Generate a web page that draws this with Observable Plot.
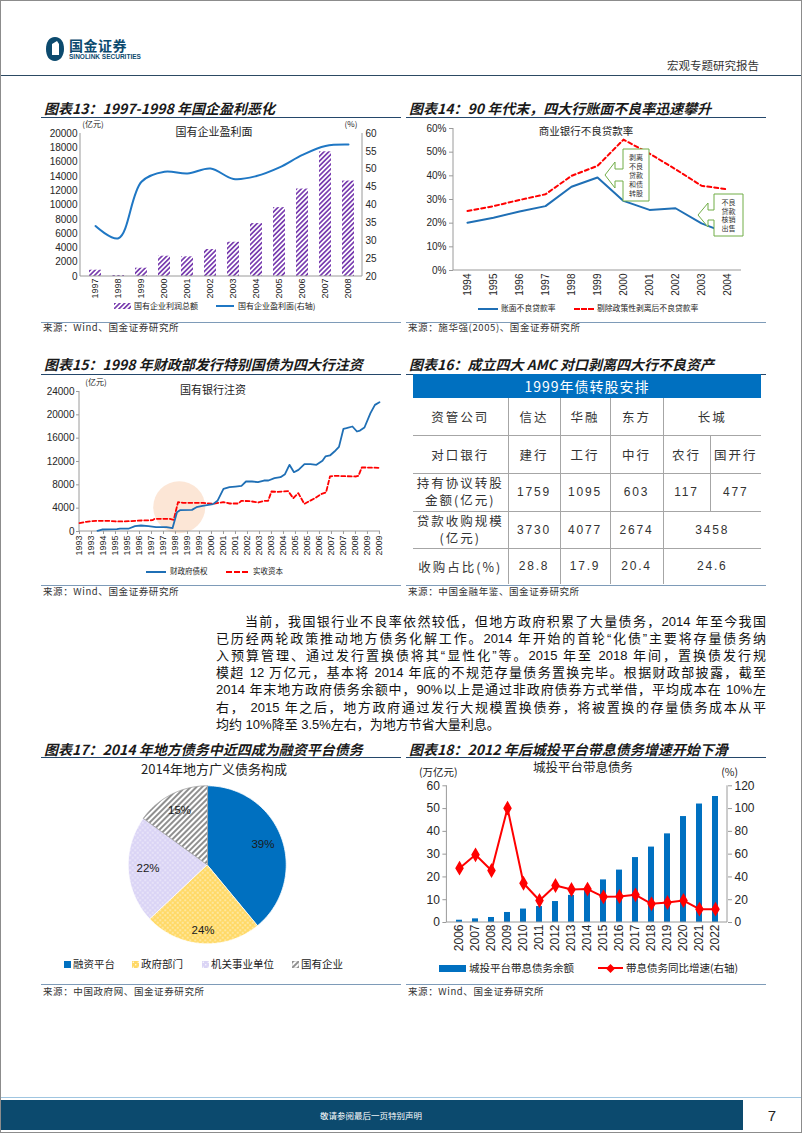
<!DOCTYPE html>
<html><head><meta charset="utf-8">
<script src="https://cdn.jsdelivr.net/npm/d3@7"></script>
<script src="https://cdn.jsdelivr.net/npm/@observablehq/plot@0.6"></script>
<style>
html,body{margin:0;padding:0;background:#fff;}
#page{position:relative;width:802px;height:1133px;overflow:hidden;font-family:"Noto Sans CJK SC","Noto Sans",sans-serif;color:#222;box-sizing:border-box;border:1px solid #8c8c8c;}
.abs{position:absolute;white-space:nowrap;line-height:1;}
.para{position:absolute;font-size:13px;line-height:1;color:#111;font-family:"Liberation Sans","Noto Sans CJK SC",sans-serif;text-align:justify;text-align-last:justify;white-space:nowrap;}
table.t16{position:absolute;left:412px;top:373px;border-collapse:collapse;table-layout:fixed;width:348px;font-family:"Noto Sans CJK SC",sans-serif;color:#333;}
table.t16 td{border-bottom:1px solid #a6a6a6;border-left:1px solid #a6a6a6;text-align:center;vertical-align:middle;padding:0;font-size:12.5px;letter-spacing:2px;}
table.t16 td.first{border-left:none;}
table.t16 td.num{font-family:"Liberation Sans",sans-serif;font-size:12px;letter-spacing:1.8px;}
table.t16 tr.head td{background:#0070C0;color:#fff;font-size:14px;letter-spacing:1px;border:none;}
</style>
</head><body>
<div id="page"></div>
<script>
// ---------------- DATA ----------------
// Chart 13
const c13Years = ["1997","1998","1999","2000","2001","2002","2003","2004","2005","2006","2007","2008"];
const c13Profit = [880,140,1160,2840,2750,3770,4790,7400,9630,12230,17440,13350];
const c13Ratio = [34.1,30.7,46.5,49.3,48.8,50.2,47.3,48.1,50.5,54.0,56.5,56.9];
const c13LeftTicks = [0,2000,4000,6000,8000,10000,12000,14000,16000,18000,20000];
const c13RightTicks = [20,25,30,35,40,45,50,55,60];
// Chart 14
const c14Years = ["1994","1995","1996","1997","1998","1999","2000","2001","2002","2003","2004"];
const c14Book = [20.2,22.3,24.9,27.2,35.4,39.3,29.4,25.6,26.3,19.9,15.7];
const c14Adj = [25.1,27.2,29.8,32.2,40.0,44.2,55.3,49.4,42.8,35.8,34.3];
const c14Ticks = [0,10,20,30,40,50,60];
// Chart 15 (x = months since Jan 1993)
const c15TickLabels = ["1993","1993","1994","1995","1995","1996","1997","1997","1998","1999","1999","2000","2001","2001","2002","2003","2003","2004","2005","2005","2006","2007","2007","2008","2009","2009"];
const c15BondM = [12,15,25,27,33,37,41,46,51,58,62,65,67,75,78,82,86,89,92,96,100,104,108,111,115,119,123,126,130,134,137,140,143,146,150,154,158,162,164,167,170,173,176,178,182,185,187,190,194,197,200];
const c15BondV = [110,340,400,510,510,910,1030,910,740,740,570,3310,3660,3710,4170,4400,4570,4690,5260,7310,7600,7710,7830,8570,8570,8460,8740,8740,9140,9310,9830,11430,10170,10570,11540,11540,11430,12110,12860,13030,13710,14510,17600,17710,18000,17140,17310,17830,20290,21710,22170];
const c15CapM = [0,4.5,11,20,24.5,33,42,48.6,50,60,62.8,65.7,69,82.4,89,95.8,100.2,105.8,108,113.6,119.2,123.6,125.8,128,131.4,139.2,142.5,145.9,149.9,153.7,157.7,161.5,164.4,167,170.4,184.4,186,188.2,191.5,200.4];
const c15CapV = [1430,1660,1830,1830,1710,1770,1890,1940,2170,2170,2000,5030,4910,4910,4740,5030,4800,4800,5260,5200,4970,5260,5260,6860,6800,6910,5710,6570,4740,5260,5830,6460,6690,9430,9540,9430,9540,10970,10970,10910];
const c15YTicks = [0,4000,8000,12000,16000,20000,24000];
// Table 16
const t16Amc = ["信达","华融","东方","长城"];
const t16Banks = ["建行","工行","中行","农行","国开行"];
const t16Swap = ["1759","1095","603","117","477"];
const t16Loan = ["3730","4077","2674","3458"];
const t16Share = ["28.8","17.9","20.4","24.6"];
// Chart 17
const c17Names = ["融资平台","政府部门","机关事业单位","国有企业"];
const c17Values = [39,24,22,15];
// Chart 18
const c18Years = ["2006","2007","2008","2009","2010","2011","2012","2013","2014","2015","2016","2017","2018","2019","2020","2021","2022"];
const c18Debt = [1.0,1.6,2.2,4.4,5.9,7.0,9.2,11.9,14.8,18.7,23.0,28.5,33.1,38.9,46.5,52.0,55.3];
const c18Growth = [47.7,59.4,45.7,100.4,34.5,19.3,32.5,29.0,29.3,22.5,22.8,24.3,16.4,17.6,19.3,11.7,11.7];
const c18LeftTicks = [0,10,20,30,40,50,60];
const c18RightTicks = [0,20,40,60,80,100,120];

// ---------------- HELPERS ----------------
const page = document.getElementById("page");
function txt(s, x, y, css = {}, anchor = "start") {
  const d = document.createElement("div");
  d.className = "abs";
  d.textContent = s;
  d.style.left = x + "px"; d.style.top = y + "px";
  const tx = anchor === "middle" ? "-50%" : anchor === "end" ? "-100%" : "0";
  d.style.transform = `translate(${tx},-50%)`;
  Object.assign(d.style, css);
  page.appendChild(d);
  return d;
}
function box(x, y, w, h, css) {
  const d = document.createElement("div");
  d.style.position = "absolute";
  d.style.left = x + "px"; d.style.top = y + "px";
  d.style.width = w + "px"; d.style.height = h + "px";
  Object.assign(d.style, css);
  page.appendChild(d);
  return d;
}
function mount(svg, x, y) {
  svg.style.position = "absolute";
  svg.style.left = x + "px"; svg.style.top = y + "px";
  page.appendChild(svg);
}
function swatch(inner, w, h, x, y) {
  const s = document.createElementNS("http://www.w3.org/2000/svg", "svg");
  s.setAttribute("width", w); s.setAttribute("height", h);
  s.innerHTML = inner;
  mount(s, x, y);
}
const baseStyle = fs => ({fontFamily: "'Liberation Sans', Arial, sans-serif", fontSize: fs + "px", color: "#262626", background: "transparent", overflow: "visible"});
function frameLines(sides, color = "#9a9a9a") {
  return (index, scales, values, dim) => {
    const {width, height, marginLeft: l, marginRight: r, marginTop: t, marginBottom: b} = dim;
    const g = d3.create("svg:g");
    const L = {left: [l, t, l, height - b], right: [width - r, t, width - r, height - b], bottom: [l, height - b, width - r, height - b]};
    for (const s of sides) {
      const [x1, y1, x2, y2] = L[s];
      g.append("line").attr("x1", x1).attr("y1", y1).attr("x2", x2).attr("y2", y2).attr("stroke", color).attr("stroke-width", 1);
    }
    return g.node();
  };
}
const songCss = {fontFamily: "'Noto Sans CJK SC', sans-serif", color: "#222"};

// global pattern defs
const defsHost = document.createElementNS("http://www.w3.org/2000/svg", "svg");
defsHost.setAttribute("width", "0"); defsHost.setAttribute("height", "0");
defsHost.style.position = "absolute";
defsHost.innerHTML = `<defs>
<pattern id="hatch13" patternUnits="userSpaceOnUse" width="3.4" height="3.4" patternTransform="rotate(45)"><rect width="3.4" height="3.4" fill="#fff"/><rect width="1.7" height="3.4" fill="#7a3fb0"/></pattern>
<pattern id="dotsY" patternUnits="userSpaceOnUse" width="5" height="5"><rect width="5" height="5" fill="#FFD966"/><circle cx="1.25" cy="1.25" r="0.7" fill="#fff"/><circle cx="3.75" cy="3.75" r="0.7" fill="#fff"/></pattern>
<pattern id="dotsL" patternUnits="userSpaceOnUse" width="5" height="5"><rect width="5" height="5" fill="#DAD4F5"/><circle cx="1.25" cy="1.25" r="0.7" fill="#fff"/><circle cx="3.75" cy="3.75" r="0.7" fill="#fff"/></pattern>
<pattern id="stripeG" patternUnits="userSpaceOnUse" width="4" height="4" patternTransform="rotate(45)"><rect width="4" height="4" fill="#fff"/><rect width="2" height="4" fill="#8f8f8f"/></pattern>
</defs>`;
page.appendChild(defsHost);

// ---------------- HEADER / FOOTER ----------------
swatch(`<path d="M10,1 C16,1 19,6 19,13 C19,20 15,25 10,25 C4,25 1,20 1,13 C1,6 4,1 10,1 Z" fill="#0c4a6e"/><path d="M7,8 L12,5 L14,8 L14,19 L7,19 Z" fill="#fff"/>`, 20, 26, 44, 35);
txt("国金证券", 68, 44, {fontSize: "14px", fontWeight: "bold", color: "#0c4a6e", letterSpacing: "0.5px"});
txt("SINOLINK SECURITIES", 68, 56, {fontSize: "6.5px", fontWeight: "bold", color: "#0c4a6e", fontFamily: "'Liberation Sans Narrow','Liberation Sans',sans-serif"});
txt("宏观专题研究报告", 758, 65, {fontSize: "11.5px", color: "#333"}, "end");
box(0, 74, 802, 0, {borderTop: "1.5px solid #2c4a63"});

box(0, 1096, 802, 0, {borderTop: "1.5px solid #9fc5e0"});
box(0, 1099, 742, 30, {background: "#0c4a6e"});
txt("敬请参阅最后一页特别声明", 370, 1114, {fontSize: "8.5px", color: "#fff"}, "middle");
txt("7", 771, 1114, {fontSize: "15px", color: "#222", fontFamily: "'Liberation Sans',sans-serif"}, "middle");

// section titles / lines
function section(title, x1, x2, ty, ly) {
  txt(title, x1 + 3, ty, {fontSize: "14px", fontWeight: "bold", fontStyle: "italic", color: "#1a1a1a"});
  box(x1, ly, x2 - x1, 0, {borderTop: "1px solid #24476b"});
}
function source(s, x1, x2, ly, ty) {
  box(x1, ly, x2 - x1, 0, {borderTop: "1.5px solid #7e9bb8"});
  txt(s, x1 + 2, ty, {fontSize: "9.5px", color: "#333", letterSpacing: "0.6px"});
}
section("图表13：1997-1998 年国企盈利恶化", 40, 400, 107, 116);
section("图表14：90 年代末，四大行账面不良率迅速攀升", 405, 765, 107, 116);
section("图表15：1998 年财政部发行特别国债为四大行注资", 40, 400, 363, 373);
section("图表16：成立四大 AMC 对口剥离四大行不良资产", 405, 765, 363, 373);
section("图表17：2014 年地方债务中近四成为融资平台债务", 40, 400, 748, 756);
section("图表18：2012 年后城投平台带息债务增速开始下滑", 405, 765, 748, 756);
source("来源：Wind、国金证券研究所", 40, 400, 321, 327);
source("来源：施华强(2005)、国金证券研究所", 405, 765, 321, 327);
source("来源：Wind、国金证券研究所", 40, 400, 584, 591);
source("来源：中国金融年鉴、国金证券研究所", 405, 765, 584, 591);
source("来源：中国政府网、国金证券研究所", 40, 400, 983, 991);
source("来源：Wind、国金证券研究所", 405, 765, 983, 991);

// ---------------- CHART 13 ----------------
const c13Rows = c13Years.map((y, i) => ({year: y, profit: c13Profit[i], ratio: c13Ratio[i]}));
const r13 = r => (r - 20) * 500;
const c13 = Plot.plot({
  width: 360, height: 180, marginLeft: 39, marginRight: 39, marginTop: 12, marginBottom: 25,
  style: baseStyle(9),
  x: {type: "band", domain: c13Years, paddingInner: 0.5, paddingOuter: 0.25},
  y: {domain: [0, 20000]},
  marks: [
    Plot.barY(c13Rows, {x: "year", y: "profit", fill: "url(#hatch13)"}),
    Plot.line(c13Rows, {x: "year", y: d => r13(d.ratio), stroke: "#1f77c4", strokeWidth: 2, curve: "catmull-rom"}),
    frameLines(["left", "right", "bottom"]),
    Plot.axisY(c13LeftTicks, {anchor: "left", label: null, tickSize: 0, tickPadding: 3, fontSize: 10, tickFormat: d => String(d)}),
    Plot.axisY(c13RightTicks.map(r13), {anchor: "right", label: null, tickSize: 0, tickPadding: 3, fontSize: 10, tickFormat: d => String(d / 500 + 20)}),
    Plot.axisX({label: null, tickRotate: -90, tickSize: 0, tickPadding: 2, fontSize: 9})
  ]
});
mount(c13, 40, 120);
txt("国有企业盈利面", 213, 130, {...songCss, fontSize: "11px"}, "middle");
txt("(亿元)", 92, 123, {...songCss, fontSize: "8px"}, "middle");
txt("(%)", 350, 123, {...songCss, fontSize: "8px"}, "middle");
swatch(`<rect width="17" height="6" fill="url(#hatch13)"/>`, 17, 6, 113, 302);
txt("国有企业利润总额", 133, 305, {...songCss, fontSize: "8px"});
box(215, 304, 18, 0, {borderTop: "2px solid #1f77c4"});
txt("国有企业盈利面(右轴)", 237, 305, {...songCss, fontSize: "8px"});

// ---------------- CHART 14 ----------------
const c14Rows = c14Years.map((y, i) => ({year: y, book: c14Book[i], adj: c14Adj[i]}));
const c14 = Plot.plot({
  width: 360, height: 180, marginLeft: 47, marginRight: 25, marginTop: 9, marginBottom: 29,
  style: baseStyle(10),
  x: {type: "point", domain: c14Years, padding: 0.5},
  y: {domain: [0, 60]},
  marks: [
    frameLines(["left", "bottom"]),
    Plot.line(c14Rows, {x: "year", y: "adj", stroke: "#ff0000", strokeWidth: 2, strokeDasharray: "4,3"}),
    Plot.line(c14Rows, {x: "year", y: "book", stroke: "#1f6fb5", strokeWidth: 2}),
    Plot.axisY(c14Ticks, {anchor: "left", label: null, tickSize: 4, tickPadding: 3, tickFormat: d => d + "%", stroke: "#9a9a9a"}),
    Plot.axisX({label: null, tickRotate: -90, tickSize: 0, tickPadding: 3})
  ]
});
mount(c14, 405, 118);
txt("商业银行不良贷款率", 585, 130, {...songCss, fontSize: "10.5px"}, "middle");
// callouts
(function(){
  const s = document.createElementNS("http://www.w3.org/2000/svg", "svg");
  s.setAttribute("width", "802"); s.setAttribute("height", "400");
  s.style.position = "absolute"; s.style.left = "0"; s.style.top = "0"; s.style.overflow = "visible";
  function callout(tx, ty, hx, hh, sh, bx1, by1, bx2, by2, lines, cx) {
    const p = `M${tx},${ty} L${hx},${ty - hh} L${hx},${ty - sh} L${bx1},${ty - sh} L${bx1},${by1} L${bx2},${by1} L${bx2},${by2} L${bx1},${by2} L${bx1},${ty + sh} L${hx},${ty + sh} L${hx},${ty + hh} Z`;
    let out = `<path d="${p}" fill="#fff" stroke="#70AD47" stroke-width="1"/>`;
    const step = (by2 - by1 - 8) / lines.length;
    lines.forEach((l, i) => {
      out += `<text x="${cx}" y="${by1 + 4 + step * (i + 0.5)}" text-anchor="middle" dominant-baseline="central" font-size="7" fill="#333" font-family="Noto Sans CJK SC">${l}</text>`;
    });
    return out;
  }
  s.innerHTML = callout(604, 174, 614, 13, 6, 622, 148, 648, 200, ["剥离", "不良", "贷款", "和债", "转股"], 635)
    + callout(697, 214, 707, 12, 5, 713, 193, 742, 235, ["不良", "贷款", "核销", "出售"], 727.5);
  page.appendChild(s);
})();
box(477, 306.5, 20, 0, {borderTop: "2px solid #1f6fb5"});
txt("账面不良贷款率", 500, 307, {...songCss, fontSize: "7.8px"});
box(573, 306.5, 20, 0, {borderTop: "2px dashed #ff0000"});
txt("剔除政策性剥离后不良贷款率", 596, 307, {...songCss, fontSize: "7.8px"});

// ---------------- CHART 15 ----------------
const c15Bond = c15BondM.map((m, i) => ({m, v: c15BondV[i]}));
const c15Cap = c15CapM.map((m, i) => ({m, v: c15CapV[i]}));
const c15TickPos = c15TickLabels.map((_, i) => i * 8);
const c15 = Plot.plot({
  width: 350, height: 182, marginLeft: 38, marginRight: 11, marginTop: 12, marginBottom: 30,
  style: baseStyle(10),
  x: {domain: [0, 200.7]},
  y: {domain: [0, 24000]},
  marks: [
    Plot.dot([{m: 66.5, v: 4170}], {x: "m", y: "v", r: 26, fill: "#fbe2cf", fillOpacity: 0.85}),
    frameLines(["left", "bottom"]),
    Plot.line(c15Cap, {x: "m", y: "v", stroke: "#ff0000", strokeWidth: 1.8, strokeDasharray: "4,2.5"}),
    Plot.line(c15Bond, {x: "m", y: "v", stroke: "#1f6fb5", strokeWidth: 1.8}),
    Plot.axisY(c15YTicks, {anchor: "left", label: null, tickSize: 3, tickPadding: 2, tickFormat: d => String(d), stroke: "#9a9a9a"}),
    Plot.axisX(c15TickPos, {label: null, tickRotate: -90, tickSize: 3, tickPadding: 1, fontSize: 9, tickFormat: d => c15TickLabels[d / 8], stroke: "#9a9a9a"})
  ]
});
mount(c15, 40, 378);
txt("国有银行注资", 212, 388, {...songCss, fontSize: "11px"}, "middle");
txt("(亿元)", 95, 381, {...songCss, fontSize: "8px"}, "middle");
box(145, 569.5, 20, 0, {borderTop: "2px solid #1f6fb5"});
txt("财政府债权", 169, 570, {...songCss, fontSize: "7.5px"});
box(225, 569.5, 22, 0, {borderTop: "2px dashed #ff0000"});
txt("实收资本", 252, 570, {...songCss, fontSize: "7.5px"});

// ---------------- TABLE 16 ----------------
(function(){
  const colW = [95, 52, 50, 53, 47, 51];
  const rowH = [24, 37, 38, 38, 37, 36];
  let h = `<colgroup>${colW.map(w => `<col style="width:${w}px">`).join("")}</colgroup>`;
  h += `<tr class="head" style="height:${rowH[0]}px"><td colspan="6">1999年债转股安排</td></tr>`;
  h += `<tr style="height:${rowH[1]}px"><td class="first">资管公司</td>${t16Amc.map((a, i) => `<td${i === 3 ? ' colspan="2"' : ""}>${a}</td>`).join("")}</tr>`;
  h += `<tr style="height:${rowH[2]}px"><td class="first">对口银行</td>${t16Banks.map(b => `<td>${b}</td>`).join("")}</tr>`;
  h += `<tr style="height:${rowH[3]}px"><td class="first" style="line-height:1.35">持有协议转股<br>金额(亿元)</td>${t16Swap.map(v => `<td class="num">${v}</td>`).join("")}</tr>`;
  h += `<tr style="height:${rowH[4]}px"><td class="first" style="line-height:1.35">贷款收购规模<br>(亿元)</td>${t16Loan.map((v, i) => `<td class="num"${i === 3 ? ' colspan="2"' : ""}>${v}</td>`).join("")}</tr>`;
  h += `<tr style="height:${rowH[5]}px"><td class="first" style="border-bottom:none">收购占比(%)</td>${t16Share.map((v, i) => `<td class="num" style="border-bottom:none"${i === 3 ? ' colspan="2"' : ""}>${v}</td>`).join("")}</tr>`;
  const t = document.createElement("table");
  t.className = "t16";
  t.innerHTML = h;
  page.appendChild(t);
})();

// ---------------- PARAGRAPH ----------------
const paraLines = [
  "当前，我国银行业不良率依然较低，但地方政府积累了大量债务，2014 年至今我国",
  "已历经两轮政策推动地方债务化解工作。2014 年开始的首轮“化债”主要将存量债务纳",
  "入预算管理、通过发行置换债将其“显性化”等。2015 年至 2018 年间，置换债发行规",
  "模超 12 万亿元，基本将 2014 年底的不规范存量债务置换完毕。根据财政部披露，截至",
  "2014 年末地方政府债务余额中，90%以上是通过非政府债券方式举借，平均成本在 10%左",
  "右， 2015 年之后，地方政府通过发行大规模置换债券，将被置换的存量债务成本从平",
  "均约 10%降至 3.5%左右，为地方节省大量利息。"
];
paraLines.forEach((l, i) => {
  const d = document.createElement("div");
  d.className = "para";
  d.textContent = l;
  const x = i === 0 ? 244 : 215;
  d.style.left = x + "px";
  d.style.top = (613.5 + i * 17.2) + "px";
  if (i < paraLines.length - 1) d.style.width = (765 - x) + "px";
  else { d.style.textAlignLast = "left"; }
  page.appendChild(d);
});

// ---------------- CHART 17 (pie) ----------------
const c17Fills = ["#0070C0", "url(#dotsY)", "url(#dotsL)", "url(#stripeG)"];
const c17Arcs = d3.pie().sort(null)(c17Values);
const c17Marks = c17Arcs.map((a, i) => {
  const pts = [[0, 0]];
  const n = 90;
  for (let k = 0; k <= n; k++) {
    const t = a.startAngle + (a.endAngle - a.startAngle) * k / n;
    pts.push([Math.sin(t), Math.cos(t)]);
  }
  return Plot.line(pts, {x: d => d[0], y: d => d[1], fill: c17Fills[i], stroke: i === 3 ? "#9a9a9a" : "#ffffff", strokeWidth: 0.8, curve: "linear-closed"});
});
const c17LabelR = [0.75, 0.83, 0.75, 0.77];
const c17Labels = c17Arcs.map((a, i) => {
  const t = (a.startAngle + a.endAngle) / 2;
  return {x: c17LabelR[i] * Math.sin(t), y: c17LabelR[i] * Math.cos(t), label: c17Values[i] + "%"};
});
const pcx = 165.7, pcy = 88.3, pr = 79;
const c17 = Plot.plot({
  width: 360, height: 180, margin: 0,
  style: baseStyle(11.5),
  x: {domain: [-1, 1], range: [pcx - pr, pcx + pr], axis: null},
  y: {domain: [-1, 1], range: [pcy + pr, pcy - pr], axis: null},
  marks: [
    ...c17Marks,
    Plot.text(c17Labels, {x: "x", y: "y", text: "label", fill: "#1a1a1a", fontSize: 11.5})
  ]
});
mount(c17, 40, 775);
txt("2014年地方广义债务构成", 213, 767, {fontSize: "13px", color: "#222"}, "middle");
(function(){
  const xs = [63, 131, 201, 291];
  c17Names.forEach((n, i) => {
    swatch(`<rect width="7" height="7" fill="${c17Fills[i]}" stroke="${i === 3 ? '#999' : 'none'}" stroke-width="0.6"/>`, 7, 7, xs[i], 959.5);
    txt(n, xs[i] + 9, 963, {...songCss, fontSize: "10.5px"});
  });
})();

// ---------------- CHART 18 ----------------
const c18Rows = c18Years.map((y, i) => ({year: y, debt: c18Debt[i], growth: c18Growth[i]}));
const r18 = g => g / 2;
const c18 = Plot.plot({
  width: 360, height: 178, marginLeft: 40.4, marginRight: 39, marginTop: 8.3, marginBottom: 33,
  style: baseStyle(12),
  x: {type: "band", domain: c18Years, paddingInner: 0.6, paddingOuter: 0.3},
  y: {domain: [0, 60]},
  marks: [
    Plot.barY(c18Rows, {x: "year", y: "debt", fill: "#0070C0"}),
    frameLines(["left", "right", "bottom"]),
    Plot.line(c18Rows, {x: "year", y: d => r18(d.growth), stroke: "#ff0000", strokeWidth: 2}),
    Plot.dot(c18Rows, {x: "year", y: d => r18(d.growth), symbol: "diamond", r: 3.6, fill: "#ff0000", stroke: "#ff0000"}),
    Plot.axisY(c18LeftTicks, {anchor: "left", label: null, tickSize: 4, tickPadding: 3, stroke: "#9a9a9a", tickFormat: d => String(d)}),
    Plot.axisY(c18RightTicks.map(r18), {anchor: "right", label: null, tickSize: 4, tickPadding: 3, stroke: "#9a9a9a", tickFormat: d => String(d * 2)}),
    Plot.axisX({label: null, tickRotate: -90, tickSize: 0, tickPadding: 2})
  ]
});
mount(c18, 405, 776);
txt("城投平台带息债务", 582, 766, {...songCss, fontSize: "12.5px"}, "middle");
txt("(万亿元)", 418, 771, {fontSize: "10.5px", color: "#222"});
txt("(%)", 737, 771, {fontSize: "10.5px", color: "#222"}, "end");
box(438, 963.5, 27, 7, {background: "#0070C0"});
txt("城投平台带息债务余额", 468, 967, {...songCss, fontSize: "10.5px"});
box(597, 966, 25, 0, {borderTop: "2px solid #ff0000"});
swatch(`<path d="M4.5,0 L9,4.5 L4.5,9 L0,4.5 Z" fill="#ff0000"/>`, 9, 9, 605, 962.5);
txt("带息债务同比增速(右轴)", 625, 967, {...songCss, fontSize: "10.5px"});
</script>
</body></html>
